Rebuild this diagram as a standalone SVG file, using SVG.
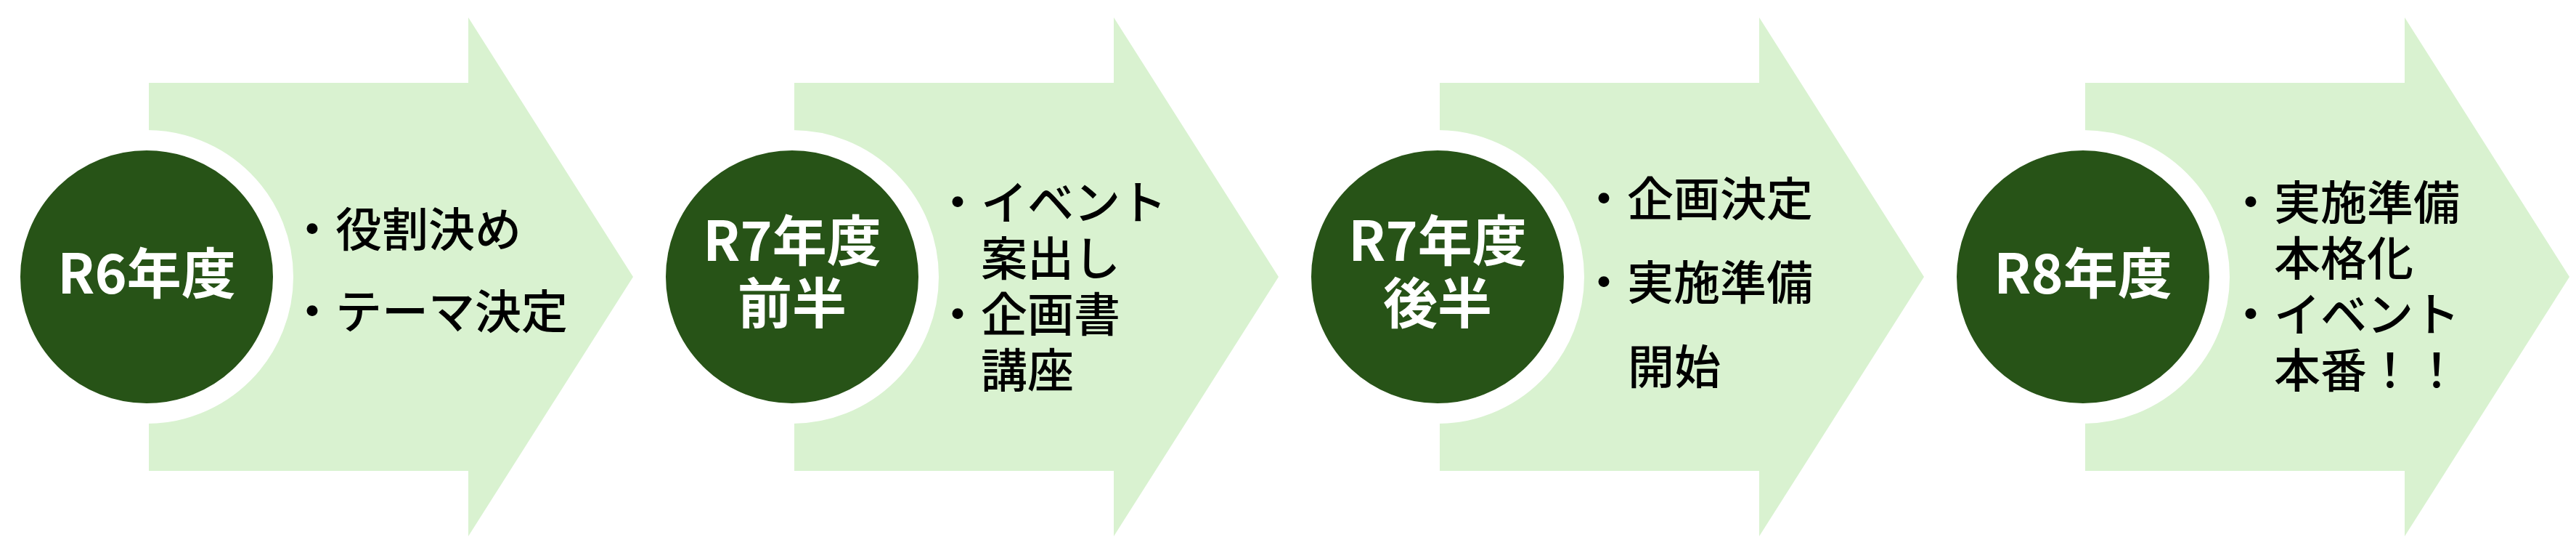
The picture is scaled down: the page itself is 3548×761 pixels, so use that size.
<svg xmlns="http://www.w3.org/2000/svg" width="3548" height="761" viewBox="0 0 3548 761">
<style>
.arrow{fill:#D9F2D0;}
.circ{fill:#275317;stroke:#FFFFFF;stroke-width:28;}
.yr{font-family:"Noto Sans CJK JP","Noto Sans",sans-serif;font-weight:bold;font-size:75px;fill:#FFFFFF;text-anchor:middle;}
.item{font-family:"Noto Sans CJK JP","Noto Sans",sans-serif;font-weight:500;font-size:64px;fill:#000000;}
</style>
<defs>
<path id="arr" d="M205,114 H645 V24 L872,381 L645,738 V648 H205 Z"/>
</defs>
<rect x="0" y="0" width="3548" height="761" fill="#FFFFFF"/>
<g id="connectors"></g>
<g id="stage1">
<use href="#arr" class="arrow"/>
<circle class="circ" cx="202" cy="381" r="188"/>
<text class="yr" x="202" y="404">R6年度</text>
<text class="item" x="398" y="339">・役割決め</text>
<text class="item" x="398" y="452">・テーマ決定</text>
</g>
<g id="stage2">
<use href="#arr" class="arrow" transform="translate(889,0)"/>
<circle class="circ" cx="1091" cy="381" r="188"/>
<text class="yr" x="1091" y="359">R7年度</text>
<text class="yr" x="1091" y="445">前半</text>
<text class="item" x="1287" y="302">・イベント</text>
<text class="item" x="1351" y="379">案出し</text>
<text class="item" x="1287" y="456">・企画書</text>
<text class="item" x="1351" y="533">講座</text>
</g>
<g id="stage3">
<use href="#arr" class="arrow" transform="translate(1778,0)"/>
<circle class="circ" cx="1980" cy="381" r="188"/>
<text class="yr" x="1980" y="359">R7年度</text>
<text class="yr" x="1980" y="445">後半</text>
<text class="item" x="2177" y="297">・企画決定</text>
<text class="item" x="2177" y="412">・実施準備</text>
<text class="item" x="2242" y="528">開始</text>
</g>
<g id="stage4">
<use href="#arr" class="arrow" transform="translate(2667,0)"/>
<circle class="circ" cx="2869" cy="381" r="188"/>
<text class="yr" x="2869" y="404">R8年度</text>
<text class="item" x="3068" y="302">・実施準備</text>
<text class="item" x="3132" y="379">本格化</text>
<text class="item" x="3068" y="456">・イベント</text>
<text class="item" x="3132" y="533">本番！！</text>
</g>
</svg>
